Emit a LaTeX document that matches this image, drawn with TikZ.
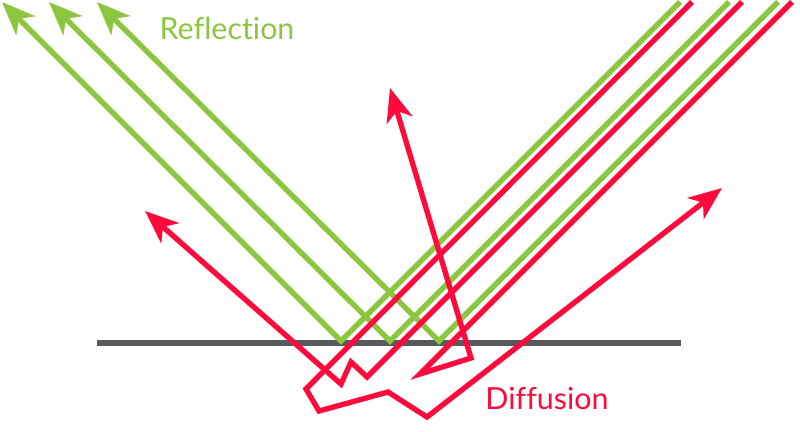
\documentclass[tikz,border=0pt]{standalone}
\usepackage{fontspec}
\setmainfont{Lato}[Ligatures=NoCommon]
\usetikzlibrary{arrows.meta}
\definecolor{grn}{HTML}{8CC63F}
\definecolor{rd}{HTML}{FF0A3C}
\definecolor{gry}{HTML}{58595B}
\tikzset{
 ray/.style={line width=4pt,miter limit=20,line join=miter,-{Stealth[length=25pt,width=20pt,inset=7pt]}},
 greenray/.style={ray,draw=grn,color=grn},
 redray/.style={ray,draw=rd,color=rd},
 lab/.style={font=\fontsize{22.8pt}{26pt}\selectfont,inner sep=0pt,anchor=center}
}
\begin{document}
\begin{tikzpicture}[x=0.75pt,y=-0.75pt]
\useasboundingbox (0,0) rectangle (800,432);
\coordinate (sl) at (97,343);
\coordinate (sr) at (681,343);
\draw[gry,line width=4.5pt] (sl) -- (sr);
\coordinate (g1a) at (680,2); \coordinate (g1b) at (341,341); \coordinate (g1c) at (2,2);
\coordinate (g2a) at (729,2); \coordinate (g2b) at (390,341); \coordinate (g2c) at (49,2);
\coordinate (g3a) at (778,2); \coordinate (g3b) at (439,341); \coordinate (g3c) at (97,2);
\draw[greenray] (g1a) -- (g1b) -- (g1c);
\draw[greenray] (g2a) -- (g2b) -- (g2c);
\draw[greenray] (g3a) -- (g3b) -- (g3c);
\coordinate (r1a) at (692,2); \coordinate (r1b) at (306,389); \coordinate (r1c) at (319,411);
\coordinate (r1d) at (388,392); \coordinate (r1e) at (427,417); \coordinate (r1f) at (722,188);
\coordinate (r2a) at (742,2); \coordinate (r2b) at (367,377); \coordinate (r2c) at (351,362);
\coordinate (r2d) at (341,384); \coordinate (r2e) at (145,211);
\coordinate (r3a) at (792,2); \coordinate (r3b) at (420,374); \coordinate (r3c) at (471,358);
\coordinate (r3d) at (390,88);
\draw[redray] (r1a) -- (r1b) -- (r1c) -- (r1d) -- (r1e) -- (r1f);
\draw[redray] (r2a) -- (r2b) -- (r2c) -- (r2d) -- (r2e);
\draw[redray] (r3a) -- (r3b) -- (r3c) -- (r3d);
\node[lab,text=grn] (refl) at (227,28) {Reflection};
\node[lab,text=rd] (diff) at (547,399) {Diffusion};
\end{tikzpicture}
\end{document}
